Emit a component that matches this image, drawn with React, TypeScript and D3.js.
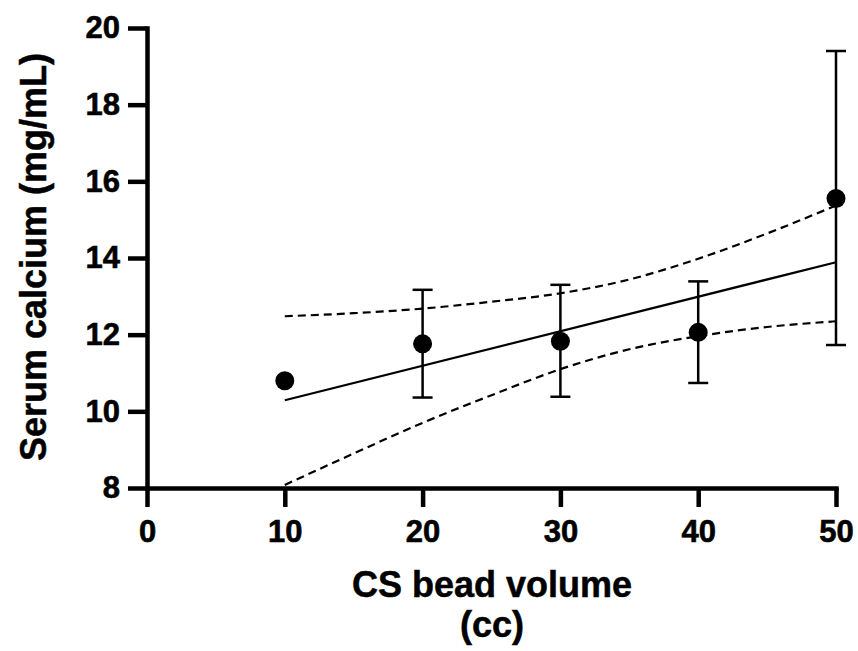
import React from 'react';
import * as d3 from 'd3';

// bead volume (cc)
const volumes = [10, 20, 30, 40, 50];
// mean serum calcium with error bar ends
const means = [10.8, 11.76, 11.83, 12.06, 15.55];
const errLow = [10.8, 10.36, 10.38, 10.74, 11.73];
const errHigh = [10.8, 13.17, 13.3, 13.39, 19.4];

const fitX = [10, 50];
const fitY = [10.29, 13.89];
const bandX = [10, 15, 20, 25, 30, 35, 40, 45, 50];
const bandUpper = [12.48, 12.56, 12.68, 12.86, 13.08, 13.44, 13.98, 14.64, 15.37];
const bandLower = [8.08, 8.9, 9.7, 10.42, 11.1, 11.62, 11.96, 12.2, 12.35];

const xTicks = [0, 10, 20, 30, 40, 50];
const yTicks = [8, 10, 12, 14, 16, 18, 20];

const FONT = 'Arial, "Liberation Sans", sans-serif';

export default function App() {
	const ref = React.useRef<SVGSVGElement>(null);

	React.useEffect(() => {
		const svg = d3.select(ref.current);
		svg.selectAll('*').remove();

		const x = d3.scaleLinear().domain([0, 50]).range([147, 836]);
		const y = d3.scaleLinear().domain([8, 20]).range([488, 28]);

		const plot = svg.append('g');

		// confidence band (dashed)
		const bandLine = d3
			.line<number>()
			.x((d, i) => x(bandX[i]))
			.y((d) => y(d))
			.curve(d3.curveMonotoneX);

		[bandUpper, bandLower].forEach((b) => {
			plot
				.append('path')
				.attr('d', bandLine(b))
				.attr('fill', 'none')
				.attr('stroke', '#000')
				.attr('stroke-width', 2.2)
				.attr('stroke-dasharray', '8,5');
		});

		// regression line
		plot
			.append('path')
			.attr(
				'd',
				d3
					.line<number>()
					.x((d, i) => x(fitX[i]))
					.y((d) => y(d))(fitY)
			)
			.attr('fill', 'none')
			.attr('stroke', '#000')
			.attr('stroke-width', 2.2);

		// error bars
		const eb = plot
			.selectAll('.eb')
			.data(volumes.filter((v, i) => errHigh[i] !== errLow[i]))
			.join('g')
			.attr('class', 'eb');
		eb.append('line')
			.attr('x1', (d) => x(d))
			.attr('x2', (d) => x(d))
			.attr('y1', (d) => y(errLow[volumes.indexOf(d)]))
			.attr('y2', (d) => y(errHigh[volumes.indexOf(d)]))
			.attr('stroke', '#000')
			.attr('stroke-width', 2.5);
		[errLow, errHigh].forEach((arr) => {
			eb.append('line')
				.attr('x1', (d) => x(d) - 10)
				.attr('x2', (d) => x(d) + 10)
				.attr('y1', (d) => y(arr[volumes.indexOf(d)]))
				.attr('y2', (d) => y(arr[volumes.indexOf(d)]))
				.attr('stroke', '#000')
				.attr('stroke-width', 2.5);
		});

		// means
		plot
			.selectAll('.dot')
			.data(volumes)
			.join('circle')
			.attr('class', 'dot')
			.attr('cx', (d) => x(d))
			.attr('cy', (d, i) => y(means[i]))
			.attr('r', 9.5)
			.attr('fill', '#000');

		// axes
		const styleAxis = (g) => {
			g.select('.domain').attr('stroke-width', 4.5).attr('stroke-linecap', 'square');
			g.selectAll('.tick line').attr('stroke-width', 4.5);
			g.selectAll('.tick text')
				.attr('fill', '#000')
				.attr('stroke', '#000')
				.attr('stroke-width', 0.6)
				.style('font-family', FONT)
				.style('font-weight', 'bold')
				.style('font-size', '31px');
		};

		svg
			.append('g')
			.attr('transform', `translate(0,${y(8)})`)
			.call(d3.axisBottom(x).tickValues(xTicks).tickSize(19).tickSizeOuter(0).tickPadding(13))
			.call(styleAxis);

		svg
			.append('g')
			.attr('transform', `translate(${x(0)},0)`)
			.call(d3.axisLeft(y).tickValues(yTicks).tickSize(19).tickSizeOuter(0).tickPadding(8))
			.call(styleAxis);

		// titles
		const title = (t, tx, ty, rot = 0) =>
			svg
				.append('text')
				.attr('transform', `translate(${tx},${ty}) rotate(${rot})`)
				.attr('text-anchor', 'middle')
				.attr('stroke', '#000')
				.attr('stroke-width', 0.5)
				.style('font-family', FONT)
				.style('font-weight', 'bold')
				.style('font-size', '36px')
				.text(t);
		title('CS bead volume', 492, 597);
		title('(cc)', 492, 637);
		title('Serum calcium (mg/mL)', 46, 257, -90);
	}, []);

	return (
		<svg
			ref={ref}
			width={858}
			height={651}
			style={{ position: 'absolute', left: 0, top: 0, background: '#fff' }}
		/>
	);
}
